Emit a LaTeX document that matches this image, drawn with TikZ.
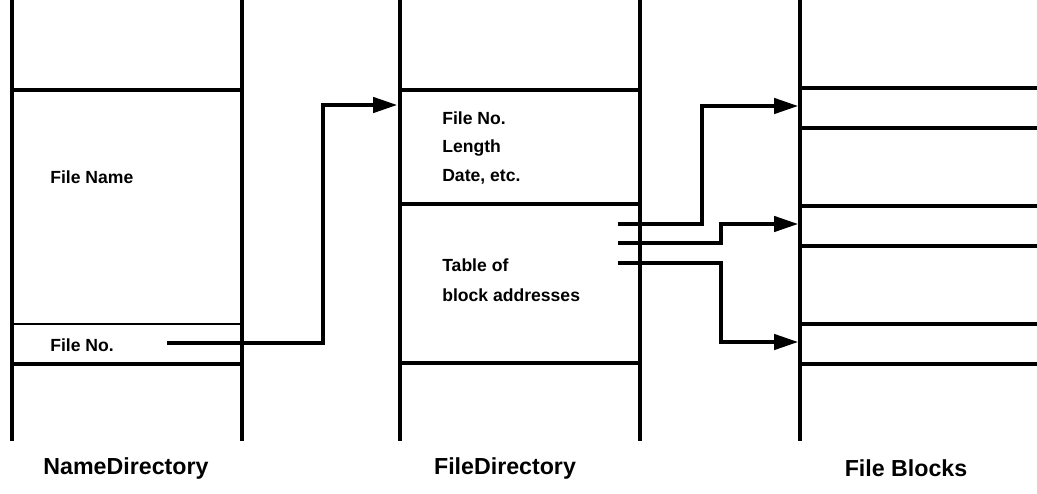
\documentclass[tikz,border=0pt]{standalone}
\usepackage{fontspec}
\setmainfont{Liberation Sans}
\usetikzlibrary{arrows.meta}

\begin{document}
\begin{tikzpicture}[x=0.025cm, y=-0.025cm,
    wall/.style={line width=3.4pt},
    shelf/.style={line width=2.3pt},
    link/.style={line width=2.2pt, -{Triangle[length=17pt,width=11pt]}},
    entry/.style={font=\bfseries\fontsize{12.5}{14}\selectfont, anchor=west, inner sep=0pt},
    title/.style={font=\bfseries\fontsize{16.5}{19}\selectfont, inner sep=0pt}]

    \useasboundingbox (0,0) rectangle (1037,493);

    % Vertical walls of the three tables
    \foreach \x in {12,242,400,640,800}
        \draw[wall] (\x,0) -- (\x,441);

    % Name directory slots
    \foreach \y in {90,364}
        \draw[shelf] (12,\y) -- (242,\y);
    \draw[line width=1.4pt] (12,324) -- (242,324);

    % File directory slots
    \foreach \y in {90,204,363}
        \draw[shelf] (400,\y) -- (640,\y);

    % File blocks
    \foreach \y in {88,128,206,246,324,364}
        \draw[shelf] (800,\y) -- (1037,\y);

    % Texts
    \node[entry] (fname) at (50,177) {File Name};
    \node[entry] (fno) at (50,345) {File No.};

    \node[entry] (dno) at (442,118) {File No.};
    \node[entry] (dlen) at (442,148) {Length};
    \node[entry] (ddate) at (442,177) {Date, etc.};
    \node[entry] (dtab) at (442,265) {Table of};
    \node[entry] (daddr) at (442,295) {block addresses};

    \node[title] (tname) at (126,468) {NameDirectory};
    \node[title] (tfile) at (505,468) {FileDirectory};
    \node[title] (tblk) at (906,468) {File Blocks};

    % Ends of the pointers
    \coordinate (nd-out) at (167,343);
    \coordinate (fd-in) at (397,105);
    \coordinate (tab1) at (618,224);
    \coordinate (tab2) at (618,243);
    \coordinate (tab3) at (618,263);
    \coordinate (blk1) at (798,106);
    \coordinate (blk2) at (798,224);
    \coordinate (blk3) at (798,342);

    % Pointers
    \draw[link] (nd-out) -- ++(156,0) |- (fd-in);
    \draw[link] (tab1) -- ++(84,0) |- (blk1);
    \draw[link] (tab2) -- ++(103,0) |- (blk2);
    \draw[link] (tab3) -- ++(103,0) |- (blk3);

\end{tikzpicture}
\end{document}
